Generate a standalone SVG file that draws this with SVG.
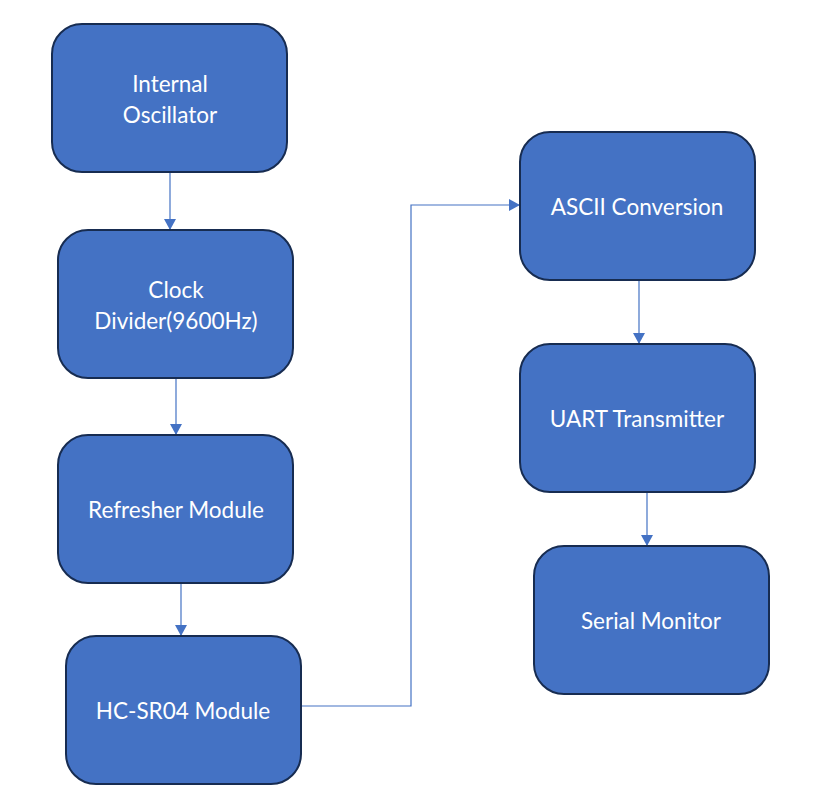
<svg xmlns="http://www.w3.org/2000/svg" width="816" height="812" viewBox="0 0 816 812">
<style>
.box{fill:#4472C4;stroke:#172C51;stroke-width:2}
.lbl{fill:#fff;font-family:Lato,"Open Sans","Liberation Sans",sans-serif;font-size:22.5px;text-anchor:middle}
.con{fill:none;stroke:#4472C4;stroke-width:1.2}
</style>
<defs>
<marker id="ah" markerWidth="12" markerHeight="12" refX="11" refY="6" orient="auto" markerUnits="userSpaceOnUse">
<path d="M0,0 L11,6 L0,12 Z" fill="#4472C4"/>
</marker>
</defs>
<rect width="816" height="812" fill="#fff"/>
<g id="connectors">
<path class="con" d="M170,172 V230" marker-end="url(#ah)"/>
<path class="con" d="M176,378 V435" marker-end="url(#ah)"/>
<path class="con" d="M181,583 V636" marker-end="url(#ah)"/>
<path class="con" d="M301,706 H411 V205 H520" marker-end="url(#ah)"/>
<path class="con" d="M639,280 V344" marker-end="url(#ah)"/>
<path class="con" d="M647,492 V546" marker-end="url(#ah)"/>
</g>
<g id="internal-oscillator">
<rect class="box" x="52" y="24" width="235" height="148" rx="30"/>
<text class="lbl" x="170" y="92">Internal</text>
<text class="lbl" x="170" y="123">Oscillator</text>
</g>
<g id="clock-divider">
<rect class="box" x="58" y="230" width="235" height="148" rx="30"/>
<text class="lbl" x="176" y="298">Clock</text>
<text class="lbl" x="176" y="329">Divider(9600Hz)</text>
</g>
<g id="refresher-module">
<rect class="box" x="58" y="435" width="235" height="148" rx="30"/>
<text class="lbl" x="176" y="518">Refresher Module</text>
</g>
<g id="hc-sr04-module">
<rect class="box" x="66" y="636" width="235" height="148" rx="30"/>
<text class="lbl" x="183" y="719">HC-SR04 Module</text>
</g>
<g id="ascii-conversion">
<rect class="box" x="520" y="132" width="235" height="148" rx="30"/>
<text class="lbl" x="637" y="215">ASCII Conversion</text>
</g>
<g id="uart-transmitter">
<rect class="box" x="520" y="344" width="235" height="148" rx="30"/>
<text class="lbl" x="637" y="427">UART Transmitter</text>
</g>
<g id="serial-monitor">
<rect class="box" x="534" y="546" width="235" height="148" rx="30"/>
<text class="lbl" x="651" y="629">Serial Monitor</text>
</g>
</svg>
